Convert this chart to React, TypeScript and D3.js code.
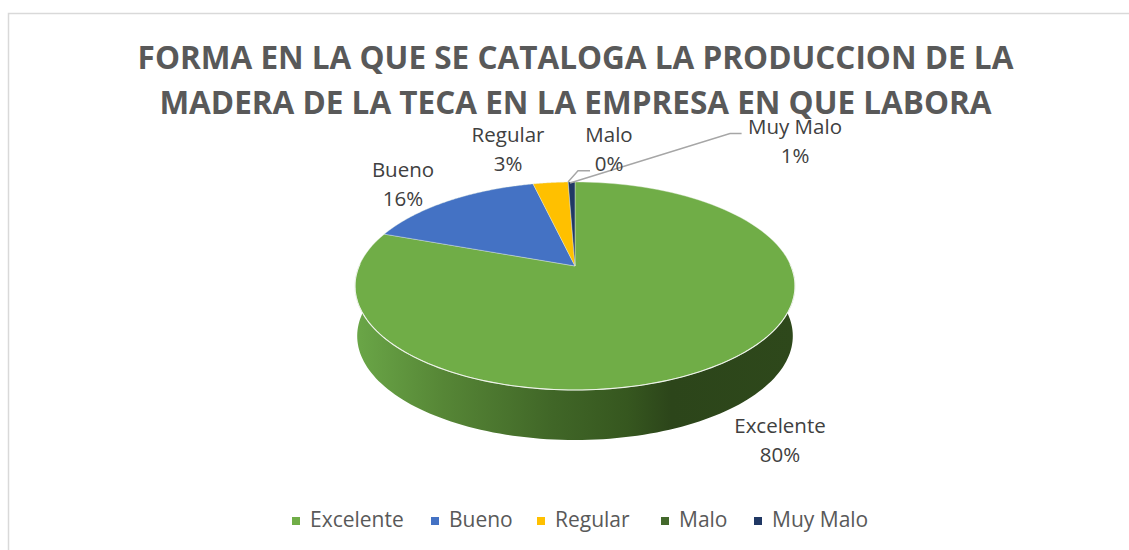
import React from "react";
import * as d3 from "d3";

const categories = ["Excelente", "Bueno", "Regular", "Malo", "Muy Malo"];
const shares = [80.5, 15.8, 3.1, 0.0, 0.6];
const percentLabels = ["80%", "16%", "3%", "0%", "1%"];
const colours = ["#70ad47", "#4472c4", "#ffc000", "#43682b", "#203864"];
const titleLines = [
  "FORMA EN LA QUE SE CATALOGA LA PRODUCCION DE LA",
  "MADERA DE LA TECA EN LA EMPRESA EN QUE LABORA",
];
const labelX = [780, 403, 508, 609, 795];
const labelBase: [number, number][] = [
  [433, 462], [177, 206], [142, 171], [142, 171], [134, 163],
];
const legendX = [292, 431, 537, 661, 754];
const FONT = "'Open Sans', sans-serif";

const apex = { x: 575, y: 266 };
const persp = -0.1923;
const top = (a: number) => {
  const u = Math.sin(a), v = -Math.cos(a), w = 1 + persp * v;
  return [apex.x + (215.9 * u) / w, apex.y + (100.15 * v) / w];
};
const bottom = (a: number) => {
  const [x, y] = top(a);
  return [apex.x + (x - apex.x) * 0.99, y + 50];
};

export default function App() {
  const pie = d3.pie<number>().sort(null).value((d) => d);
  const arcs = pie(shares);
  const sampled = (s: number, e: number) => d3.range(0, 121).map((i) => s + ((e - s) * i) / 120);
  const slicePath = (s: number, e: number) => {
    const line = d3.line();
    return line([[apex.x, apex.y], ...sampled(s, e).map((a) => top(a) as [number, number])])! + "Z";
  };
  const rimA = Math.PI / 2 - 0.02, rimB = (3 * Math.PI) / 2 + 0.02;
  const sidePts = [
    ...sampled(rimA, rimB).map((a) => top(a) as [number, number]),
    ...sampled(rimA, rimB).reverse().map((a) => bottom(a) as [number, number]),
  ];
  const rimPts = sampled(rimA, rimB).map((a) => top(a) as [number, number]);
  const leader1 = [[568, 182], [578, 170.7], [590, 170.7]] as [number, number][];
  const leader2 = [[570, 183], [730, 133.5], [741.6, 133.5]] as [number, number][];
  const line = d3.line();
  const labelFill = "#404040";
  return (
    <svg width={1129} height={550} style={{ position: "absolute", left: 0, top: 0, background: "#fff" }}>
      <defs>
        <linearGradient id="side" gradientUnits="userSpaceOnUse" x1="356" x2="794" y1="0" y2="0">
          <stop offset="0" stopColor="#6aa647" />
          <stop offset="0.2" stopColor="#568636" />
          <stop offset="0.45" stopColor="#406627" />
          <stop offset="0.62" stopColor="#36571f" />
          <stop offset="0.72" stopColor="#2c451a" />
          <stop offset="1" stopColor="#2e481b" />
        </linearGradient>
      </defs>
      <path d="M8.5,550V13.5H1129" fill="none" stroke="#d9d9d9" strokeWidth={1.5} />
      {titleLines.map((t, i) => (
        <text key={t} x={575.5} y={69 + i * 45} textAnchor="middle" fontFamily={FONT} fontWeight={700} fontSize={31.5} fill="#595959">{t}</text>
      ))}
      <path d={line(sidePts)! + "Z"} fill="url(#side)" />
      {arcs.map((a, i) => a.endAngle > a.startAngle ? (
        <path key={categories[i]} d={slicePath(a.startAngle, a.endAngle)} fill={colours[i]} stroke="#e8efe2" strokeWidth={0.4} strokeLinejoin="round" />
      ) : null)}
      <path d={line(rimPts)!} fill="none" stroke="#eef3ea" strokeWidth={1.1} />
      <path d={line(leader1)!} fill="none" stroke="#a6a6a6" strokeWidth={1.4} />
      <path d={line(leader2)!} fill="none" stroke="#a6a6a6" strokeWidth={1.4} />
      {categories.map((c, i) => (
        <text key={c} textAnchor="middle" fontFamily={FONT} fontSize={20.5} fill={labelFill}>
          <tspan x={labelX[i]} y={labelBase[i][0]}>{c}</tspan>
          <tspan x={labelX[i]} y={labelBase[i][1]}>{percentLabels[i]}</tspan>
        </text>
      ))}
      {categories.map((c, i) => (
        <g key={c}>
          <rect x={legendX[i]} y={517} width={8} height={8} fill={colours[i]} />
          <text x={legendX[i] + 18} y={527} fontFamily={FONT} fontSize={21} fill="#595959">{c}</text>
        </g>
      ))}
    </svg>
  );
}
